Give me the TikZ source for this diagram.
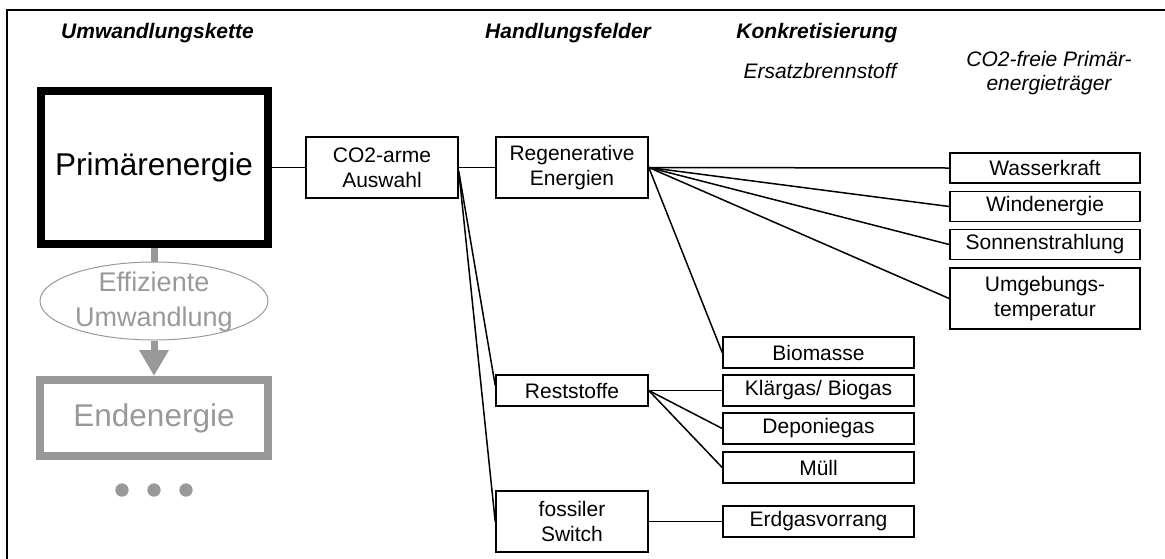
\documentclass[tikz,border=0pt]{standalone}
\usepackage{fontspec}
\setmainfont{Liberation Sans}
\usetikzlibrary{arrows.meta,calc,shapes.geometric}
\definecolor{chaingray}{HTML}{999999}

\begin{document}
\begin{tikzpicture}[x=1pt,y=-1pt,
  every node/.style={font=\fontsize{21}{25}\selectfont},
  heading/.style={font=\fontsize{21}{25}\selectfont\bfseries\itshape},
  subheading/.style={font=\fontsize{21}{24}\selectfont\itshape,align=center},
  box/.style={draw,line width=1.6pt,inner sep=0pt,align=center},
  midbox/.style={box,minimum width=152pt},
  rightbox/.style={box,minimum width=191pt,minimum height=31pt},
  farbox/.style={box,minimum width=190pt,minimum height=30pt},
  tall/.style={minimum height=61pt},
  link/.style={line width=1.5pt},
  chainlink/.style={draw=chaingray,line width=7pt},
  chainbox/.style={draw,line width=8pt,inner sep=0pt,
    font=\fontsize{31.5}{36}\selectfont}
]
\useasboundingbox (0,0) rectangle (1165,558);

% frame
\draw[line width=2pt] (7,560) -- (7,10) -- (1167,10);

% column headings
\node[heading] (hUmw) at (157.5,33) {Umwandlungskette};
\node[heading] (hHand) at (568,33) {Handlungsfelder};
\node[heading] (hKonk) at (817,33) {Konkretisierung};
\node[subheading] (hErs) at (820,71) {Ersatzbrennstoff};
\node[subheading] (hFrei) at (1049,73) {CO2-freie Primär-\\energieträger};

% conversion chain
\node[chainbox,minimum width=227pt,minimum height=153pt] (prim) at (154,167.5) {Primärenergie};
\node[draw=chaingray,line width=1pt,ellipse,minimum width=228pt,minimum height=78pt,inner sep=0pt] (eff) at (154,301) {};
\node[text=chaingray,align=center,font=\fontsize{27}{35}\selectfont] (effText) at (154,302.5) {Effiziente\\Umwandlung};
\node[chainbox,draw=chaingray,text=chaingray,minimum width=228pt,minimum height=76pt] (end) at (154,418) {Endenergie};
\draw[chainlink] (prim.south) -- (eff.north);
\draw[chainlink,-{Triangle[length=26pt,width=28pt]}] (eff.south) -- (end.north);
\foreach \x/\n in {122/d1,154/d2,186/d3}
  \fill[chaingray] (\x,490) circle (6.7pt) coordinate (\n);

% fields of action
\node[midbox,tall] (co2) at (382,167.5) {CO2-arme\\Auswahl};
\node[midbox,tall] (reg) at (572,167.5) {Regenerative\\Energien};
\node[midbox,minimum height=31pt] (rest) at (572,390.5) {Reststoffe};
\node[midbox,tall] (foss) at (572,521.5) {fossiler\\Switch};

% CO2-free primary energy carriers
\node[farbox] (wasser) at (1045,168) {Wasserkraft};
\node[farbox] (wind) at (1045,206.5) {Windenergie};
\node[farbox] (sonne) at (1045,244.5) {Sonnenstrahlung};
\node[farbox,tall] (umg) at (1045,298.5) {Umgebungs-\\temperatur};

% substitute fuels
\node[rightbox] (bio) at (818.5,352.5) {Biomasse};
\node[rightbox] (klaer) at (818.5,390.5) {Klärgas/ Biogas};
\node[rightbox] (depo) at (818.5,428.5) {Deponiegas};
\node[rightbox] (muell) at (818.5,467.5) {Müll};
\node[rightbox] (erdgas) at (818.5,521.5) {Erdgasvorrang};

% connectors
\draw[link] (prim.east) -- (co2.west);
\draw[link] (co2.east) -- (reg.west);
\draw[link] ($(co2.east)+(0,4)$) -- ($(rest.west)+(0,-5)$);
\draw[link] ($(co2.east)+(0,4)$) -- (foss.west);
\foreach \t in {wasser,wind,sonne,umg,bio}
  \draw[link] (reg.east) -- (\t.west);
\foreach \t in {klaer,depo,muell}
  \draw[link] (rest.east) -- (\t.west);
\draw[link] (foss.east) -- (erdgas.west);
\end{tikzpicture}
\end{document}
